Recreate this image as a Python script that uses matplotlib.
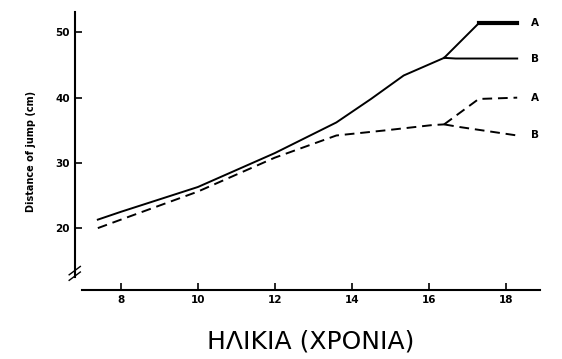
import matplotlib
matplotlib.use("Agg")
import matplotlib.pyplot as plt

# common part (solid, upper curve) then branches A / B
solid_x = [7.4, 8.0, 10.0, 12.0, 13.6, 14.5, 15.35, 16.4]
solid_y = [21.3, 22.5, 26.3, 31.5, 36.2, 39.8, 43.4, 46.1]
solid_a_x = [16.4, 17.3, 18.3]
solid_a_y = [46.1, 51.4, 51.4]
solid_b_x = [16.4, 16.7, 18.3]
solid_b_y = [46.1, 46.0, 46.0]

dash_x = [7.4, 8.0, 10.0, 12.0, 13.6, 14.9, 16.1, 16.4]
dash_y = [20.0, 21.3, 25.6, 30.8, 34.2, 35.0, 35.8, 35.9]
dash_a_x = [16.4, 17.3, 18.3]
dash_a_y = [35.9, 39.8, 40.0]
dash_b_x = [16.4, 16.8, 18.3]
dash_b_y = [35.9, 35.5, 34.2]

xticks = [8, 10, 12, 14, 16, 18]
yticks = [20, 30, 40, 50]

fig = plt.figure(figsize=(5.62, 3.59), dpi=100)
ax = fig.add_axes([0.133, 0.192, 0.827, 0.774])

ax.plot(solid_x, solid_y, color="black", lw=1.4)
ax.plot(solid_a_x, solid_a_y, color="black", lw=1.4)
ax.plot(solid_a_x[1:], solid_a_y[1:], color="black", lw=3)
ax.plot(solid_b_x, solid_b_y, color="black", lw=1.4)

dash = dict(color="black", lw=1.4, linestyle=(0, (5, 3)))
ax.plot(dash_x, dash_y, **dash)
ax.plot(dash_a_x, dash_a_y, **dash)
ax.plot(dash_b_x, dash_b_y, **dash)

# branch labels
for lab, y in [("A", solid_a_y[-1]), ("B", solid_b_y[-1]),
               ("A", dash_a_y[-1]), ("B", dash_b_y[-1])]:
    ax.text(18.65, y, lab, fontsize=7.5, fontweight="bold", va="center", ha="left")

ax.set_xlim(6.8, 18.88)
ax.set_ylim(10.5, 53.1)
ax.set_xticks(xticks)
ax.set_yticks(yticks)
ax.tick_params(direction="in", length=5, width=1.2, labelsize=7.5)
for t in ax.get_xticklabels() + ax.get_yticklabels():
    t.set_fontweight("bold")

ax.spines["top"].set_visible(False)
ax.spines["right"].set_visible(False)
ax.spines["left"].set_linewidth(1.5)
ax.spines["bottom"].set_linewidth(1.5)
ax.spines["bottom"].set_bounds(7.0, 18.88)
ax.spines["left"].set_bounds(12.5, 53.1)

# axis break marks
kw = dict(transform=ax.transAxes, color="black", lw=1, clip_on=False)
ax.plot([-0.012, 0.012], [0.055, 0.085], **kw)
ax.plot([-0.012, 0.012], [0.035, 0.065], **kw)

ax.set_ylabel("Distance of jump (cm)", fontsize=7, fontweight="bold", labelpad=14)
fig.text(0.552, 0.05, "ΗΛΙΚΙΑ (ΧΡΟΝΙΑ)", fontsize=18, ha="center", va="center",
         color="black")

fig.savefig("out.png", dpi=100)
